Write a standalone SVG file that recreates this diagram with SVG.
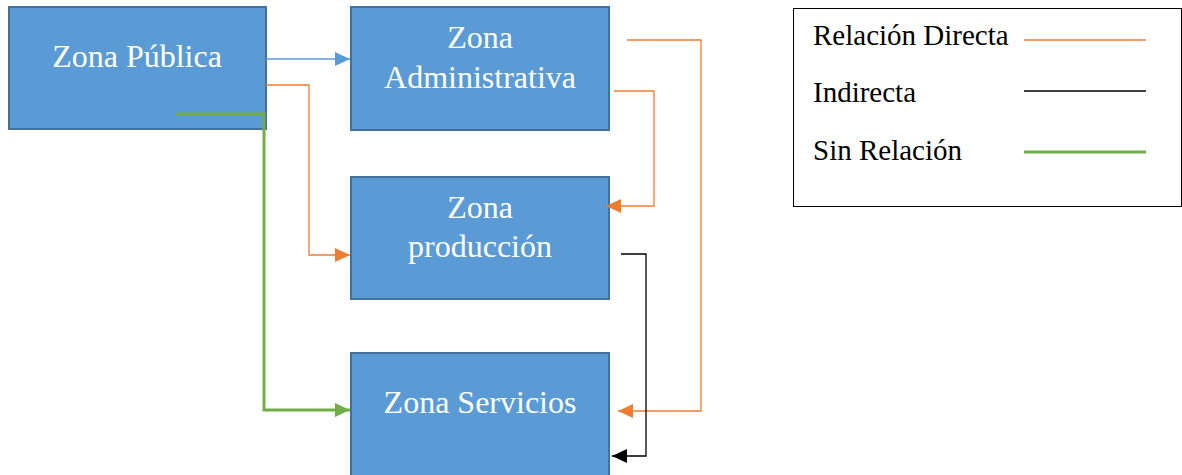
<svg xmlns="http://www.w3.org/2000/svg" width="1182" height="475" viewBox="0 0 1182 475">
<style>
.box{fill:#5B9BD5;stroke:#41719C;stroke-width:2}
.bt{font-family:"Liberation Serif","Times New Roman",serif;font-size:32px;fill:#FFFFFF;text-anchor:middle}
.lt{font-family:"Liberation Serif","Times New Roman",serif;font-size:29px;fill:#000000}
.c{fill:none}
.thin{stroke-width:1.3}
</style>
<defs>
<marker id="aBlue" markerUnits="userSpaceOnUse" markerWidth="15" markerHeight="14" refX="15" refY="7" orient="auto"><path d="M0,0 L15,7 L0,14 z" fill="#5B9BD5"/></marker>
<marker id="aOr" markerUnits="userSpaceOnUse" markerWidth="15" markerHeight="14" refX="15" refY="7" orient="auto"><path d="M0,0 L15,7 L0,14 z" fill="#ED7D31"/></marker>
<marker id="aBk" markerUnits="userSpaceOnUse" markerWidth="15" markerHeight="14" refX="15" refY="7" orient="auto"><path d="M0,0 L15,7 L0,14 z" fill="#000000"/></marker>
<marker id="aGr" markerUnits="userSpaceOnUse" markerWidth="15" markerHeight="14" refX="15" refY="7" orient="auto"><path d="M0,0 L15,7 L0,14 z" fill="#70AD47"/></marker>
</defs>
<rect width="1182" height="475" fill="#FFFFFF"/>
<g id="zona-publica">
<rect class="box" x="9" y="7" width="257" height="122"/>
<text class="bt" x="137" y="67">Zona Pública</text>
</g>
<g id="zona-administrativa">
<rect class="box" x="351" y="7" width="258" height="123"/>
<text class="bt" x="480" y="48">Zona</text>
<text class="bt" x="480" y="88">Administrativa</text>
</g>
<g id="zona-produccion">
<rect class="box" x="351" y="177" width="258" height="122"/>
<text class="bt" x="480" y="218">Zona</text>
<text class="bt" x="480" y="257">producción</text>
</g>
<g id="zona-servicios">
<rect class="box" x="351" y="353" width="258" height="124"/>
<text class="bt" x="480" y="413">Zona Servicios</text>
</g>
<g id="connectors">
<path class="c thin" d="M266,59 H350" stroke="#5B9BD5" marker-end="url(#aBlue)"/>
<path class="c thin" d="M266,85 H309 V255 H350" stroke="#ED7D31" marker-end="url(#aOr)"/>
<path class="c" d="M176,114 H264 V410 H350" stroke="#70AD47" stroke-width="3" marker-end="url(#aGr)"/>
<path class="c thin" d="M614,91 H654 V206 H606" stroke="#ED7D31" marker-end="url(#aOr)"/>
<path class="c thin" d="M627,40 H701 V411 H618" stroke="#ED7D31" marker-end="url(#aOr)"/>
<path class="c thin" d="M621,254 H646 V456 H612" stroke="#000000" marker-end="url(#aBk)"/>
</g>
<g id="legend">
<rect x="793.5" y="8.5" width="388" height="198" fill="#FFFFFF" stroke="#000000" stroke-width="1"/>
<text class="lt" x="813" y="45">Relación Directa</text>
<text class="lt" x="813" y="102">Indirecta</text>
<text class="lt" x="813" y="160">Sin Relación</text>
<line x1="1024" y1="40" x2="1146" y2="40" stroke="#ED7D31" stroke-width="1.5"/>
<line x1="1024" y1="91" x2="1146" y2="91" stroke="#000000" stroke-width="1.5"/>
<line x1="1024" y1="152" x2="1146" y2="152" stroke="#70AD47" stroke-width="3"/>
</g>
</svg>
